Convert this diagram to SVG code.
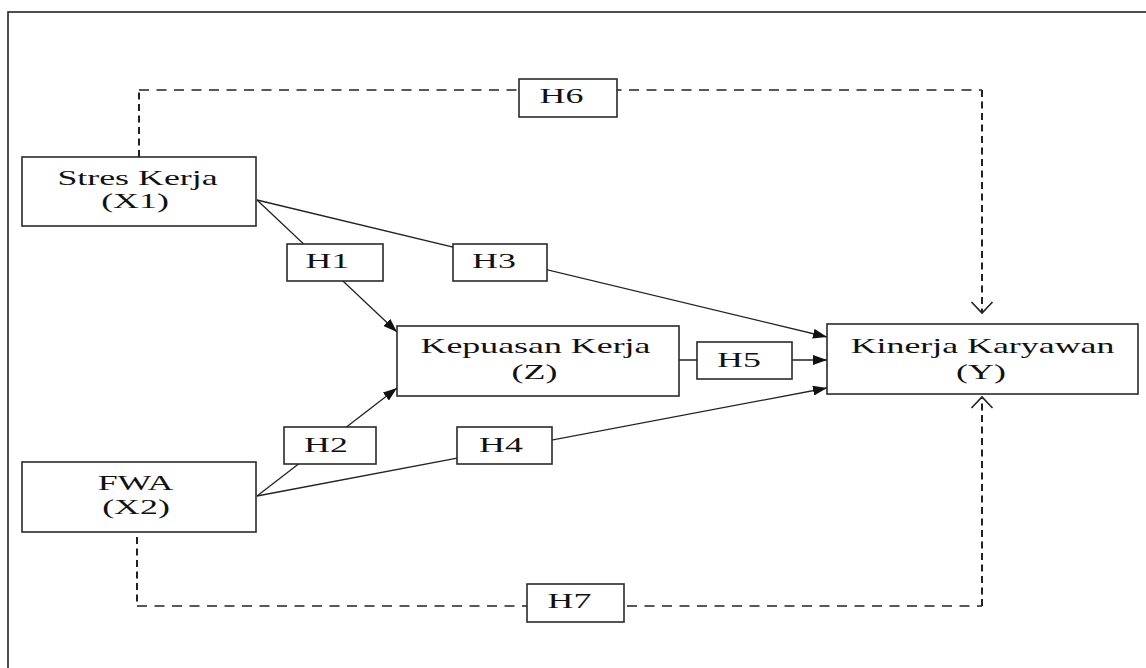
<svg xmlns="http://www.w3.org/2000/svg" width="1146" height="668" viewBox="0 0 1146 668">
  <style>
    .bg { fill: #ffffff; }
    .frame { fill: none; stroke: #222; stroke-width: 1.6; }
    .box { fill: #ffffff; stroke: #2a2a2a; stroke-width: 1.6; }
    .lbl { fill: #ffffff; stroke: #2a2a2a; stroke-width: 1.6; }
    .t { font-family: "Liberation Serif", "Times New Roman", serif; font-size: 22px; fill: #111; text-anchor: middle; }
    .line { fill: none; stroke: #222; stroke-width: 1.3; }
    .dh { fill: none; stroke: #222; stroke-width: 1.5; stroke-dasharray: 10 7.5; }
    .dv { fill: none; stroke: #222; stroke-width: 2; stroke-dasharray: 7 4.5; }
  </style>
  <defs>
    <marker id="arrow" viewBox="0 0 14 10" refX="14" refY="5" markerWidth="14" markerHeight="10" markerUnits="userSpaceOnUse" orient="auto">
      <path d="M0,0 L14,5 L0,10 z" fill="#111"/>
    </marker>
    <marker id="chev" viewBox="-13 -12 15 24" refX="0" refY="0" markerWidth="15" markerHeight="24" markerUnits="userSpaceOnUse" orient="auto">
      <path d="M-11,-10.5 L0,0 L-11,10.5" fill="none" stroke="#222" stroke-width="1.6" stroke-dasharray="none"/>
    </marker>
  </defs>
  <rect class="bg" x="0" y="0" width="1146" height="668"/>
  <rect class="frame" x="8" y="12" width="1150" height="670"/>

  <g id="connectors">
    <!-- H1: Stres Kerja -> Kepuasan Kerja -->
    <line class="line" x1="257" y1="200" x2="397" y2="332" marker-end="url(#arrow)"/>
    <!-- H3: Stres Kerja -> Kinerja Karyawan -->
    <line class="line" x1="257" y1="200" x2="827" y2="337" marker-end="url(#arrow)"/>
    <!-- H2: FWA -> Kepuasan Kerja -->
    <line class="line" x1="257" y1="496" x2="397" y2="388" marker-end="url(#arrow)"/>
    <!-- H4: FWA -> Kinerja Karyawan -->
    <line class="line" x1="257" y1="496" x2="827" y2="388" marker-end="url(#arrow)"/>
    <!-- H5: Kepuasan Kerja -> Kinerja Karyawan -->
    <line class="line" x1="679" y1="360" x2="827" y2="360" marker-end="url(#arrow)"/>
    <!-- H6: dashed, Stres Kerja -> Kinerja Karyawan (top) -->
    <path class="dv" d="M139,157 V90"/>
    <path class="dh" d="M139,90 H982"/>
    <path class="dv" d="M982,90 V313" marker-end="url(#chev)"/>
    <!-- H7: dashed, FWA -> Kinerja Karyawan (bottom) -->
    <path class="dv" d="M137,537 V606"/>
    <path class="dh" d="M137,606 H982"/>
    <path class="dv" d="M982,606 V397" marker-end="url(#chev)"/>
  </g>

  <g id="node-stres-kerja">
    <rect class="box" x="22" y="157" width="234" height="69"/>
    <text class="t" transform="translate(137.5,185) scale(1.63,1)">Stres Kerja</text>
    <text class="t" transform="translate(135,208) scale(1.63,1)">(X1)</text>
  </g>
  <g id="node-fwa">
    <rect class="box" x="22" y="462" width="234" height="70"/>
    <text class="t" transform="translate(135.5,490) scale(1.63,1)">FWA</text>
    <text class="t" transform="translate(136,514) scale(1.63,1)">(X2)</text>
  </g>
  <g id="node-kepuasan-kerja">
    <rect class="box" x="397" y="326" width="282" height="70"/>
    <text class="t" transform="translate(535.5,353) scale(1.63,1)">Kepuasan Kerja</text>
    <text class="t" transform="translate(534.5,379) scale(1.63,1)">(Z)</text>
  </g>
  <g id="node-kinerja-karyawan">
    <rect class="box" x="827" y="324" width="311" height="70"/>
    <text class="t" transform="translate(982.5,353) scale(1.63,1)">Kinerja Karyawan</text>
    <text class="t" transform="translate(981,379) scale(1.63,1)">(Y)</text>
  </g>

  <g id="label-h1">
    <rect class="lbl" x="287" y="244" width="96" height="37"/>
    <text class="t" transform="translate(327.5,268) scale(1.63,1)">H1</text>
  </g>
  <g id="label-h2">
    <rect class="lbl" x="284" y="427" width="92" height="37"/>
    <text class="t" transform="translate(326,452) scale(1.63,1)">H2</text>
  </g>
  <g id="label-h3">
    <rect class="lbl" x="453" y="244" width="94" height="37"/>
    <text class="t" transform="translate(494,268) scale(1.63,1)">H3</text>
  </g>
  <g id="label-h4">
    <rect class="lbl" x="457" y="427" width="95" height="37"/>
    <text class="t" transform="translate(501,452) scale(1.63,1)">H4</text>
  </g>
  <g id="label-h5">
    <rect class="lbl" x="697" y="342" width="95" height="37"/>
    <text class="t" transform="translate(739,367) scale(1.63,1)">H5</text>
  </g>
  <g id="label-h6">
    <rect class="lbl" x="519" y="79" width="98" height="38"/>
    <text class="t" transform="translate(561.5,103) scale(1.63,1)">H6</text>
  </g>
  <g id="label-h7">
    <rect class="lbl" x="527" y="584" width="97" height="38"/>
    <text class="t" transform="translate(569.5,608) scale(1.63,1)">H7</text>
  </g>
</svg>
